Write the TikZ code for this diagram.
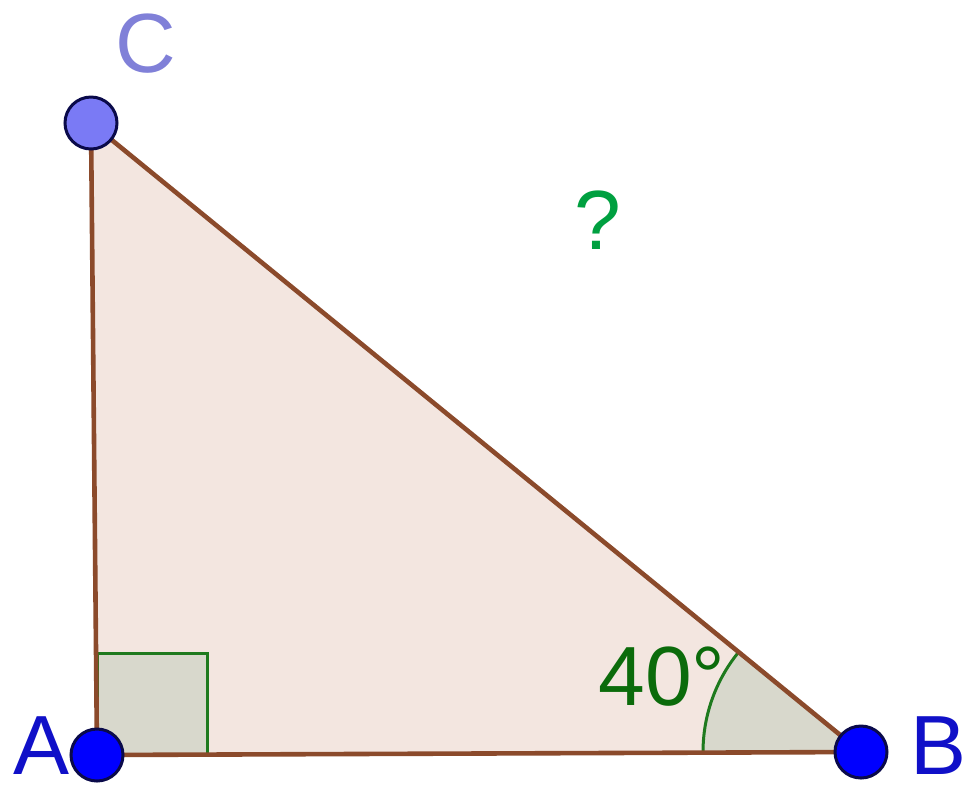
\documentclass[tikz,border=0pt]{standalone}
\usepackage{fontspec}
\setmainfont{Liberation Sans}
\usetikzlibrary{angles}
\definecolor{trifill}{HTML}{F3E6E0}
\definecolor{edgec}{HTML}{8B4A2B}
\definecolor{markfill}{HTML}{D8D8CC}
\definecolor{markline}{HTML}{1E7A1E}
\definecolor{ptblue}{HTML}{0000FF}
\definecolor{ptlight}{HTML}{7A7AF5}
\definecolor{ptborder}{HTML}{0A0A4A}
\definecolor{lblblue}{HTML}{1010C8}
\definecolor{lbllight}{HTML}{8080D8}
\definecolor{qgreen}{HTML}{00A040}
\definecolor{anggreen}{HTML}{0B6B0B}
\tikzset{
  edge/.style={draw=edgec, line width=2.3pt},
  anglemark/.style={draw=markline, line width=1.5pt, fill=markfill},
  ptnode/.style={circle, draw=ptborder, line width=1.5pt, minimum size=26pt, inner sep=0pt},
  lbl/.style={inner sep=0pt, font=\fontsize{42}{50}\selectfont}
}
\begin{document}
\begin{tikzpicture}[x=0.5pt,y=-0.5pt]
\useasboundingbox (0,0) rectangle (969,784);
\coordinate (A) at (97,755);
\coordinate (B) at (861,752);
\coordinate (C) at (91,123);
\fill[trifill] (A) -- (B) -- (C) -- cycle;
\draw[anglemark] (A) rectangle ++(110,-102);
\pic[anglemark, angle radius=79pt] {angle = C--B--A};
\draw[edge] (A) -- (B);
\draw[edge] (B) -- (C);
\draw[edge] (C) -- (A);
\node[ptnode, fill=ptblue] (pA) at (A) {};
\node[ptnode, fill=ptblue] (pB) at (B) {};
\node[ptnode, fill=ptlight] (pC) at (C) {};
\node[lbl, text=lblblue] (lA) at (42,746) {A};
\node[lbl, text=lblblue] (lB) at (939,746) {B};
\node[lbl, text=lbllight] (lC) at (146,44) {C};
\node[lbl, text=qgreen] (q) at (598,220) {?};
\node[lbl, text=anggreen] (ang) at (662,677) {40°};
\end{tikzpicture}
\end{document}
